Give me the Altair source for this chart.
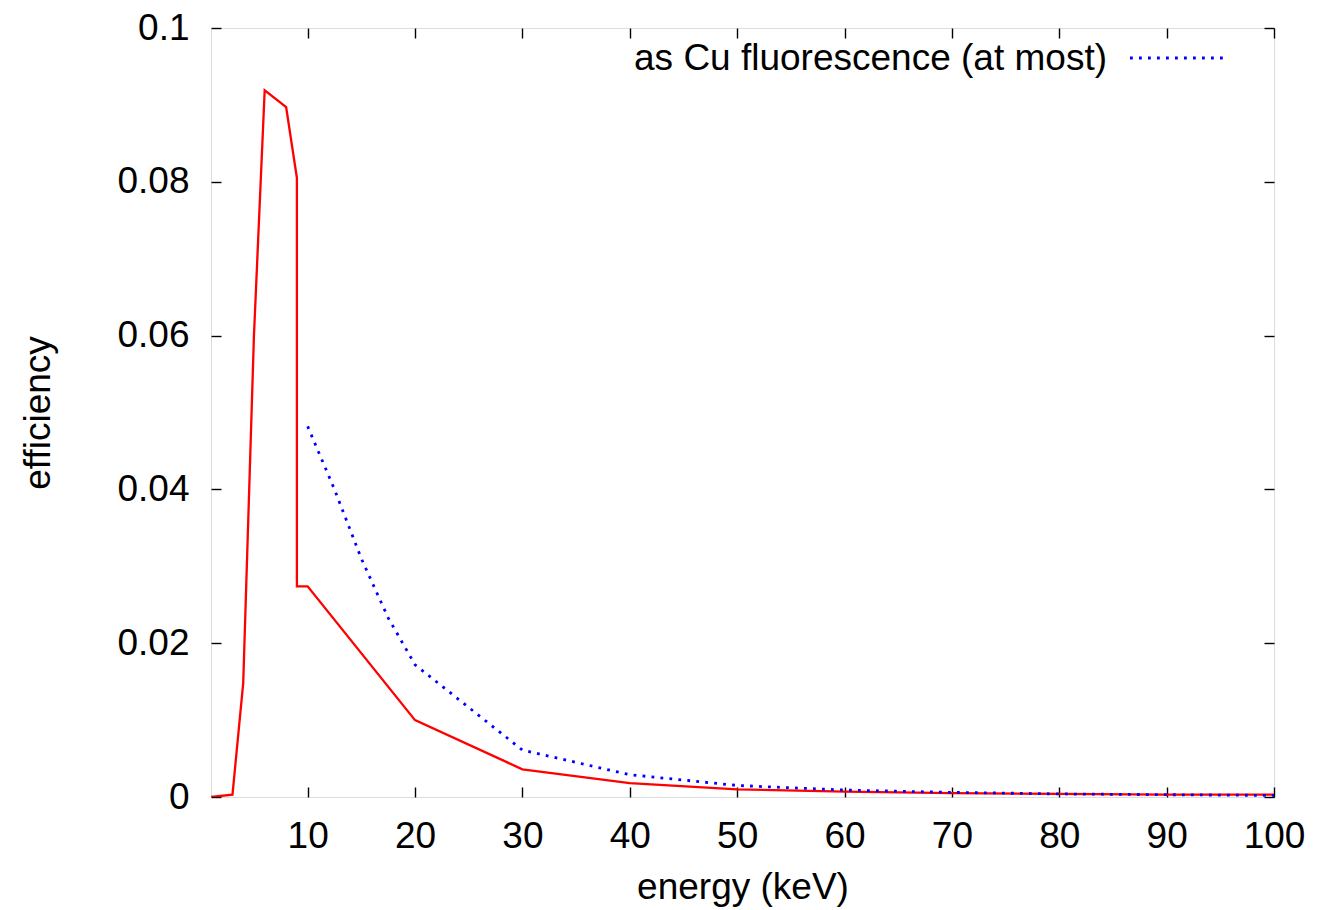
import altair as alt
import pandas as pd

# ---- data ----
red_energy = [1, 3, 4, 5, 6, 8, 9, 9, 10, 20, 30, 40, 50, 60, 70, 80, 90, 100]
red_eff = [0.0, 0.0003, 0.0148, 0.0600, 0.0919, 0.0897, 0.0805, 0.0274, 0.0274,
           0.0100, 0.0036, 0.0018, 0.0010, 0.0007, 0.0005, 0.0004, 0.0003, 0.0003]

blue_energy = [10, 12.5, 15, 17.5, 20, 30, 40, 50, 60, 70, 80, 90, 100]
blue_eff = [0.0482, 0.0400, 0.0310, 0.0233, 0.0172, 0.0061, 0.0029, 0.0015,
            0.0009, 0.0006, 0.0004, 0.0003, 0.0002]

x_ticks = [10, 20, 30, 40, 50, 60, 70, 80, 90, 100]
y_ticks = [0, 0.02, 0.04, 0.06, 0.08, 0.1]
legend_label = ["as Cu fluorescence (at most)"]

FONT = "Liberation Sans"
FS = 37
W, H = 1063, 769

red_df = pd.DataFrame({"energy": red_energy, "eff": red_eff, "order": list(range(len(red_energy)))})
blue_df = pd.DataFrame({"energy": blue_energy, "eff": blue_eff})

xscale = alt.Scale(domain=[1, 100], nice=False, zero=False)
yscale = alt.Scale(domain=[0, 0.1], nice=False, zero=False)

common_axis = dict(domain=False, grid=False, tickColor="black", tickWidth=1.4,
                   tickSize=10, offset=-10, labelFont=FONT, labelFontSize=FS,
                   labelColor="black", titleFont=FONT, titleFontSize=FS,
                   titleColor="black", titleFontWeight="normal")

red = alt.Chart(red_df).mark_line(color="#ff0000", strokeWidth=2.3, clip=True).encode(
    x=alt.X("energy:Q", scale=xscale,
            axis=alt.Axis(values=x_ticks, orient="bottom", title="energy (keV)",
                          labelPadding=21, titlePadding=15, labelFlush=False,
                          **common_axis)),
    y=alt.Y("eff:Q", scale=yscale,
            axis=alt.Axis(values=y_ticks, orient="left", title="efficiency",
                          format="~g", labelPadding=22, titlePadding=59,
                          labelFlush=False, **common_axis)),
    order="order:Q",
)

blue = alt.Chart(blue_df).mark_line(color="#0000ff", strokeWidth=2.8,
                                    strokeDash=[2.8, 6.2], clip=True).encode(
    x=alt.X("energy:Q", scale=xscale,
            axis=alt.Axis(values=x_ticks, orient="top", title=None, labels=False,
                          **common_axis)),
    y=alt.Y("eff:Q", scale=yscale,
            axis=alt.Axis(values=y_ticks, orient="right", title=None, labels=False,
                          **common_axis)),
)

leg_df = pd.DataFrame({"label": legend_label})
leg_text = alt.Chart(leg_df).mark_text(align="right", baseline="middle", font=FONT,
                                       fontSize=FS, color="black").encode(
    x=alt.value(896), y=alt.value(31), text="label:N")
leg_line = alt.Chart(leg_df).mark_rule(color="#0000ff", strokeWidth=2.8,
                                       strokeDash=[2.8, 6.2]).encode(
    x=alt.value(919), x2=alt.value(1015), y=alt.value(30))

chart = alt.layer(red, blue, leg_text, leg_line).resolve_axis(
    x="independent", y="independent"
).properties(
    width=W, height=H,
    autosize=alt.AutoSizeParams(type="none"),
    padding={"left": 203, "top": 20, "right": 49, "bottom": 110},
).configure_view(
    stroke="black", strokeWidth=2
).configure(background="white")

chart.save("out.html", embed_options={"renderer": "svg", "actions": False})
